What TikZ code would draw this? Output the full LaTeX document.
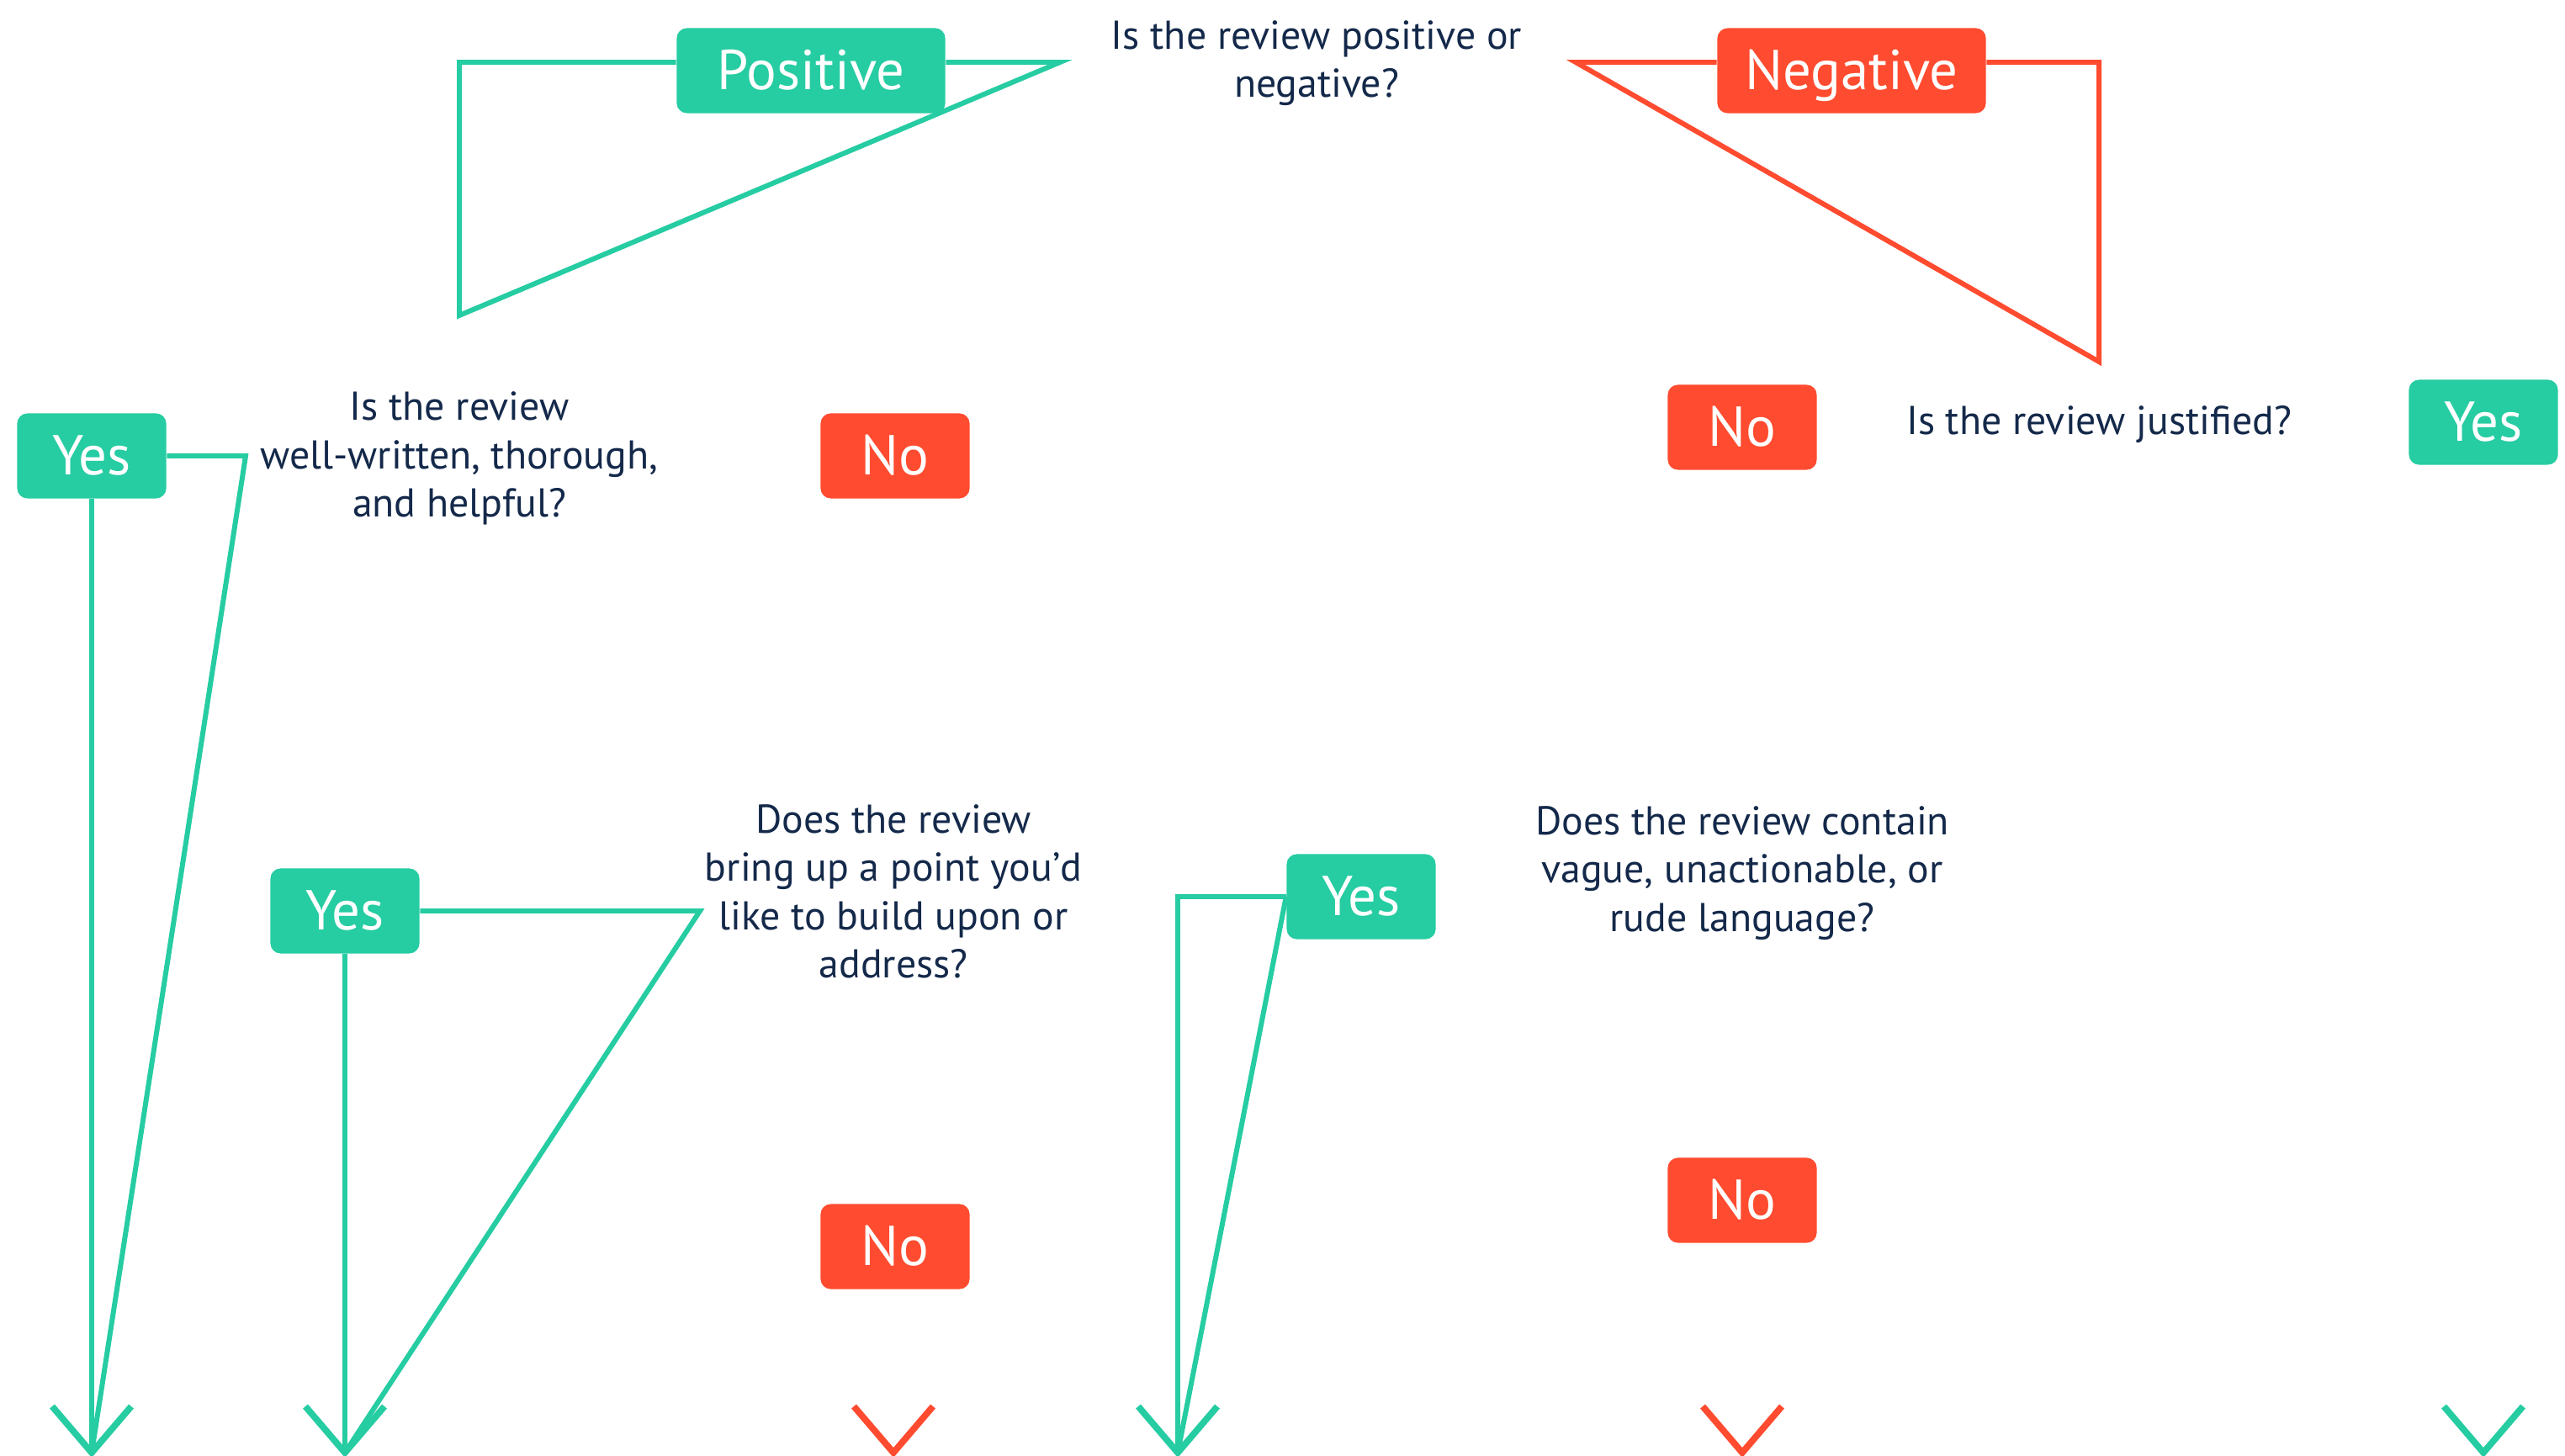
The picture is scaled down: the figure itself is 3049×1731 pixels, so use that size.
\documentclass[tikz,border=0pt]{standalone}
\usepackage{fontspec}
\setmainfont{PT Sans}
\usepackage{tikz}
\usetikzlibrary{positioning,calc,backgrounds}
\definecolor{grn}{HTML}{26CCA2}
\definecolor{rd}{HTML}{FF4B2F}
\definecolor{navy}{HTML}{14294A}

\begin{document}
\begin{tikzpicture}[x=0.01cm,y=-0.01cm]
	\tikzstyle{ques} = [text=navy,align=center,font=\fontsize{13.6}{16.3}\selectfont,inner sep=0pt]
	\tikzstyle{yes} = [rectangle,rounded corners=0.12cm,fill=grn,text=white,minimum width=1.77cm,minimum height=1.01cm,text height=13pt,text depth=0pt,font=\fontsize{19}{22}\selectfont]
	\tikzstyle{no} = [yes,fill=rd]
	\tikzstyle{gline} = [draw=grn,line width=1.7pt]
	\tikzstyle{rline} = [gline,draw=rd]
	\tikzset{
		chevron/.pic={\draw[line width=2.2pt] (-47,-55) -- (0,0) -- (47,-55);}
	}
	\useasboundingbox (0,0) rectangle (3049,1731);
	
	\node[ques] (Q1) at (1565,75) {Is the review positive or\\negative?};
	\node[yes,minimum width=3.19cm] (Pos) at (964,84) {Positive};
	\node[no,minimum width=3.19cm] (Neg) at (2201,84) {Negative};
	
	\node[ques] (Q2) at (546,545) {Is the review\\well-written, thorough,\\and helpful?};
	\node[yes] (Y1) at (109,542) {Yes};
	\node[no] (N1) at (1064,542) {No};
	
	\node[ques] (Q3) at (1062,1060) {Does the review\\bring up a point you’d\\like to build upon or\\address?};
	\node[yes] (Y2) at (410,1083) {Yes};
	\node[no] (N2) at (1064,1482) {No};
	
	\node[yes] (Y3) at (1618,1066) {Yes};
	\node[ques] (Q4) at (2071,1038) {Does the review contain\\vague, unactionable, or\\rude language?};
	\node[no] (N3) at (2071,1427) {No};
	
	\node[no] (N4) at (2071,508) {No};
	\node[ques] (Q5) at (2495,505) {Is the review justified?};
	\node[yes] (Y4) at (2952,502) {Yes};
	
	%corners of the branch lines
	\coordinate (pl) at (546,74);
	\coordinate (pb) at (546,375);
	\coordinate (pr) at (1260,74);
	\coordinate (nl) at (1873,74);
	\coordinate (nt) at (2495,74);
	\coordinate (nb) at (2495,430);
	\coordinate (c1) at (292,542);
	\coordinate (c2) at (832,1083);
	\coordinate (c3) at (1400,1066);
	%arrow tips
	\coordinate (A1) at (109,1727);
	\coordinate (A2) at (410,1727);
	\coordinate (A3) at (1400,1727);
	\coordinate (A4) at (1062,1727);
	\coordinate (A5) at (2071,1727);
	\coordinate (A6) at (2952,1727);
	
	\begin{scope}[on background layer]
	\draw[gline] (Pos.west |- pl) -- (pl) -- (pb) -- (pr) -- (Pos.east |- pr);
	\draw[rline] (Neg.east |- nt) -- (nt) -- (nb) -- (nl) -- (Neg.west |- nl);
	\draw[gline] (Y1.east) -- (c1) -- (A1);
	\draw[gline] (Y1.south) -- (A1);
	\draw[gline] (Y2.east) -- (c2) -- (A2);
	\draw[gline] (Y2.south) -- (A2);
	\draw[gline] (Y3.west) -- (c3) -- (A3);
	\draw[gline] (Y3.west) -- (A3);
	\end{scope}
	
	\pic[color=grn] at (A1) {chevron};
	\pic[color=grn] at (A2) {chevron};
	\pic[color=grn] at (A3) {chevron};
	\pic[color=rd] at (A4) {chevron};
	\pic[color=rd] at (A5) {chevron};
	\pic[color=grn] at (A6) {chevron};
\end{tikzpicture}
\end{document}
